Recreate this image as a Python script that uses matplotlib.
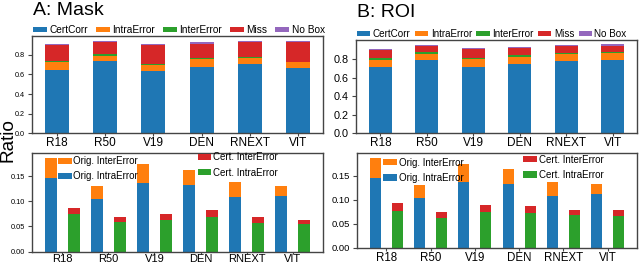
import numpy as np
import matplotlib
matplotlib.use("Agg")
import matplotlib.pyplot as plt

plt.rcParams['font.family'] = ['Liberation Sans', 'DejaVu Sans']

models = ["R18", "R50", "V19", "DEN", "RNEXT", "VIT"]

# Panel A (Mask) stacked ratios
mask_certcorr = [0.645, 0.733, 0.632, 0.676, 0.706, 0.662]
mask_intra    = [0.085, 0.057, 0.064, 0.077, 0.057, 0.061]
mask_inter    = [0.010, 0.017, 0.010, 0.013, 0.013, 0.007]
mask_miss     = [0.157, 0.127, 0.191, 0.148, 0.155, 0.201]
mask_nobox    = [0.013, 0.010, 0.013, 0.014, 0.010, 0.010]

# Panel B (ROI) stacked ratios
roi_certcorr = [0.711, 0.796, 0.718, 0.750, 0.782, 0.793]
roi_intra    = [0.078, 0.064, 0.082, 0.078, 0.071, 0.071]
roi_inter    = [0.022, 0.015, 0.018, 0.015, 0.015, 0.014]
roi_miss     = [0.085, 0.071, 0.096, 0.081, 0.074, 0.068]
roi_nobox    = [0.018, 0.010, 0.010, 0.011, 0.011, 0.014]

# Bottom panels: original vs certified errors
mask_orig_intra = [0.146, 0.1055, 0.136, 0.1327, 0.108, 0.1115]
mask_orig_inter = [0.041, 0.0255, 0.0386, 0.0303, 0.030, 0.0195]
mask_cert_intra = [0.0757, 0.058, 0.0624, 0.069, 0.0564, 0.054]
mask_cert_inter = [0.0119, 0.010, 0.0126, 0.014, 0.0126, 0.0097]

roi_orig_intra = [0.145, 0.104, 0.136, 0.1326, 0.108, 0.111]
roi_orig_inter = [0.043, 0.0265, 0.039, 0.0314, 0.0288, 0.022]
roi_cert_intra = [0.0768, 0.0614, 0.0747, 0.0726, 0.0684, 0.0656]
roi_cert_inter = [0.016, 0.0126, 0.0146, 0.0139, 0.0112, 0.0133]

C_BLUE, C_ORANGE, C_GREEN, C_RED, C_PURPLE = "#1f77b4", "#ff7f0e", "#2ca02c", "#d62728", "#9467bd"
SPINE = "#444444"

fig = plt.figure(figsize=(6.4, 2.65), dpi=100)
W, H = 640.0, 265.0

def add_ax(left, top, right, bottom):
    return fig.add_axes([left / W, 1 - bottom / H, (right - left) / W, (bottom - top) / H])

ax_tl = add_ax(32, 36, 323, 133.3)
ax_tr = add_ax(356, 40, 637, 133.3)
ax_bl = add_ax(32, 153, 323, 251.5)
ax_br = add_ax(357, 153, 637, 247.7)

def style(ax, ytick_size, xtick_size, xpad=0.5, xlen=2.5):
    for s in ax.spines.values():
        s.set_color(SPINE)
        s.set_linewidth(1.0)
    ax.tick_params(axis='y', labelsize=ytick_size, length=3, width=0.8, color=SPINE, pad=2)
    ax.tick_params(axis='x', labelsize=xtick_size, length=xlen, width=0.8, color=SPINE, pad=xpad)

def top_panel(ax, cc, intra, inter, miss, nobox, ysize, cs, lfs):
    x = np.arange(len(models))
    w = 0.5
    b = np.zeros(len(models))
    handles = []
    for vals, col, lab in [(cc, C_BLUE, "CertCorr"), (intra, C_ORANGE, "IntraError"),
                           (inter, C_GREEN, "InterError"), (miss, C_RED, "Miss"),
                           (nobox, C_PURPLE, "No Box")]:
        h = ax.bar(x, vals, w, bottom=b, color=col, label=lab, linewidth=0)
        handles.append(h)
        b = b + np.array(vals)
    ax.set_xticks(x)
    ax.set_xticklabels(models)
    ax.set_yticks([0.0, 0.2, 0.4, 0.6, 0.8])
    ax.set_yticklabels(["0.0", "0.2", "0.4", "0.6", "0.8"])
    style(ax, ysize, 8.5)
    ax.legend(handles=handles, ncol=5, loc='lower left', bbox_to_anchor=(0.0, 1.0),
              frameon=False, fontsize=lfs, handlelength=1.35, handleheight=0.45,
              handletextpad=0.25, columnspacing=cs, borderpad=0.1, borderaxespad=0.0)
    return ax

top_panel(ax_tl, mask_certcorr, mask_intra, mask_inter, mask_miss, mask_nobox, 5.2, 0.8, 7.3)
top_panel(ax_tr, roi_certcorr, roi_intra, roi_inter, roi_miss, roi_nobox, 7.8, 0.45, 7.1)

fig.text(33 / W, 1 - 15 / H, "A: Mask", fontsize=14, ha='left', va='baseline')
fig.text(357 / W, 1 - 17 / H, "B: ROI", fontsize=14, ha='left', va='baseline')

def bottom_panel(ax, oi, oe, ci, ce, ysize, xsize, orig_anchor, cert_anchor, xpad, xlen):
    x = np.arange(len(models))
    w = 0.25
    h1 = ax.bar(x, oi, w, color=C_BLUE, linewidth=0, label="Orig. IntraError")
    h2 = ax.bar(x, oe, w, bottom=oi, color=C_ORANGE, linewidth=0, label="Orig. InterError")
    h3 = ax.bar(x + 0.5, ci, w, color=C_GREEN, linewidth=0, label="Cert. IntraError")
    h4 = ax.bar(x + 0.5, ce, w, bottom=ci, color=C_RED, linewidth=0, label="Cert. InterError")
    ax.set_xticks(x + 0.25)
    ax.set_xticklabels(models)
    ax.set_yticks([0.0, 0.05, 0.10, 0.15])
    ax.set_yticklabels(["0.00", "0.05", "0.10", "0.15"])
    style(ax, ysize, xsize, xpad=xpad, xlen=xlen)
    kw = dict(frameon=False, fontsize=7.0, handlelength=1.4, handleheight=0.6,
              handletextpad=0.2, labelspacing=0.55, borderpad=0.0, borderaxespad=0.0,
              loc='upper left')
    l1 = ax.legend(handles=[h2, h1], bbox_to_anchor=orig_anchor, **kw)
    ax.add_artist(l1)
    ax.legend(handles=[h4, h3], bbox_to_anchor=cert_anchor, **kw)

bottom_panel(ax_bl, mask_orig_intra, mask_orig_inter, mask_cert_intra, mask_cert_inter, 5.3, 8.0,
             (0.089, 0.968), (0.570, 1.008), 0.2, 1.5)
bottom_panel(ax_br, roi_orig_intra, roi_orig_inter, roi_cert_intra, roi_cert_inter, 6.8, 8.3,
             (0.093, 0.952), (0.593, 0.984), 0.5, 2.5)

fig.text(8 / W, 1 - 140 / H, "Ratio", fontsize=13.7, rotation=90, ha='center', va='center')

fig.savefig("out.png", dpi=100)
